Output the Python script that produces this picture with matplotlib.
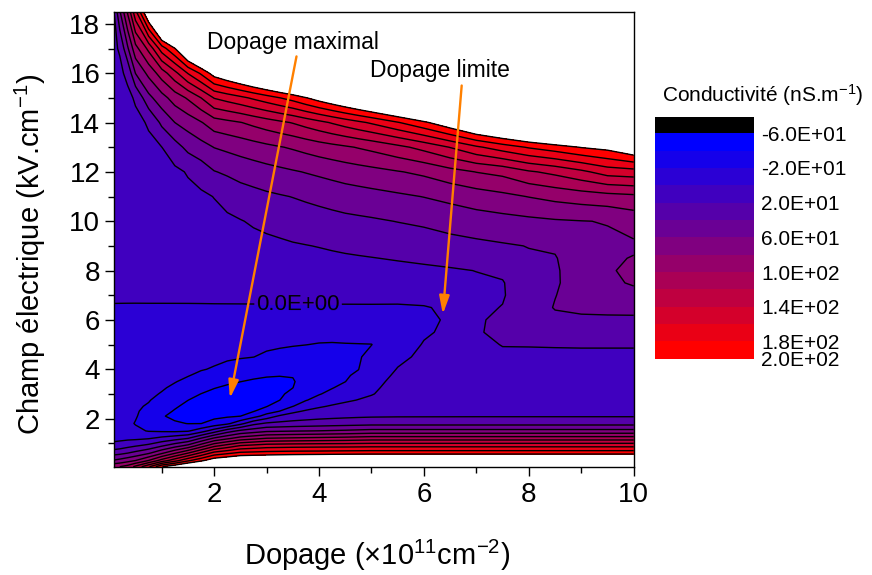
import matplotlib
matplotlib.use("Agg")
import matplotlib.pyplot as plt
import numpy as np
from matplotlib.colors import ListedColormap
from matplotlib.ticker import MultipleLocator, FuncFormatter

plt.rcParams['font.family'] = ['Liberation Sans', 'DejaVu Sans']
plt.rcParams['mathtext.fontset'] = 'custom'
plt.rcParams['mathtext.rm'] = 'Liberation Sans'
plt.rcParams['mathtext.default'] = 'regular'
plt.rcParams['contour.negative_linestyle'] = 'solid'

# doping (x1e11 cm-2) and electric field (kV/cm) sampling
dopage = [0.09, 0.2, 0.35, 0.5, 0.75, 1.0, 1.25, 1.5, 1.75, 2.0, 2.25, 2.5,
          2.75, 3.0, 3.25, 3.5, 3.75, 4.0, 4.25, 4.5, 4.75, 5.0, 5.5, 6.0,
          6.5, 7.0, 7.5, 8.0, 8.5, 9.0, 9.5, 10.0]
champ = [0.05, 0.3, 0.6, 0.9, 1.2, 1.5, 1.8, 2.1, 2.3, 2.5, 2.75, 3.0, 3.25,
         3.5, 3.75, 4.0, 4.5, 5.0, 5.5, 6.0, 6.5, 7.0, 7.5, 8.0, 8.5, 9.0,
         10, 11, 12, 13, 14, 15, 16, 17, 18.5]

# conductivity (nS/m), one list per doping value, along champ
cond_par_dopage = [
    [97, 62, 33, 6, -5, -12, -14, -15, -15, -15, -14.5, -14, -13.3, -12.5, -11.8, -11, -9, -7, -5, -3, -0.3, 0.6, 1.4, 2.2, 3.1, 3.9, 5.6, 7.3, 9.0, 10.7, 12.4, 14.1, 15.8, 17.5, 19.8],
    [100, 66, 35, 9, -5, -12, -14.5, -15.7, -15.9, -16, -15.5, -15, -14.3, -13.5, -12.8, -12, -9.8, -7.5, -5.2, -3, -0.34, 0.65, 1.6, 2.6, 3.6, 4.6, 6.5, 8.5, 10.5, 12.5, 14.5, 16.0, 16.5, 21.5, 58],
    [108, 72.5, 40, 14, -4.3, -13, -16, -17.5, -17.8, -18, -17.5, -17, -16.3, -15.5, -14.5, -13.5, -11, -8.5, -6, -3.5, -0.4, 0.74, 1.86, 2.98, 4.1, 5.2, 7.46, 9.7, 11.9, 13.5, 15.0, 16.0, 24, 57, 103],
    [125, 80, 46, 18.3, -4, -16, -21, -18.5, -18, -17.5, -16.8, -16, -15.3, -14.5, -13.8, -13, -11, -8.5, -6, -3.5, -0.45, 0.82, 2.07, 3.3, 4.56, 5.8, 8.3, 10.8, 13.0, 14.8, 16.0, 22, 60.5, 93, 155],
    [157, 100.5, 57.6, 25, -1.5, -21.1, -27.7, -28.5, -25.1, -21.7, -18.9, -17, -15.9, -14.8, -13.8, -12.7, -10.6, -8.2, -5.8, -3.5, -0.5, 0.94, 2.4, 3.8, 5.2, 6.6, 9.5, 12.3, 15.0, 17.0, 21.5, 54.3, 85.5, 125, 230],
    [199, 128, 77, 37.6, 5, -22.6, -30.6, -38.5, -34.6, -30.7, -25.8, -21, -18.4, -16.5, -15.2, -14, -11.5, -9, -6.5, -4, -0.55, 1.04, 2.6, 4.2, 5.8, 7.4, 10.5, 13.7, 16.9, 19.8, 44, 72.3, 110, 170, 305],
    [217, 152, 98.5, 51.5, 11.6, -23.7, -37.7, -43.9, -41.3, -38, -32.9, -27.8, -22.7, -19.3, -17.7, -16.2, -13.1, -10, -6.9, -3.8, -0.6, 1.15, 2.9, 4.65, 6.45, 8.2, 11.5, 14.4, 16, 32, 60, 89, 134, 199, 350],
    [235, 176, 120, 65.5, 19.5, -21.9, -40.4, -47, -47.4, -44, -39.8, -34.4, -28.9, -23.3, -19.3, -17.7, -14.4, -11.2, -8, -4.5, -0.65, 1.27, 3.2, 5.1, 7.1, 9.0, 12.5, 15.0, 21.5, 45.3, 68.6, 102.5, 161, 240, 390],
    [247.5, 195.5, 143.9, 90, 41, -8.9, -40.2, -46, -50, -50, -45, -40.2, -34.3, -28.6, -23, -19.1, -15.5, -11.8, -8.2, -4.8, -0.68, 1.4, 3.55, 5.7, 7.9, 10.0, 13.5, 16.5, 29, 52.6, 78.6, 120, 183, 270, 420],
    [260, 215, 167.7, 114.5, 63, 10, -33, -44.6, -48.8, -53, -49.8, -44.6, -39.3, -33.3, -27.2, -21.2, -16.6, -12.8, -9, -5.2, -0.7, 1.56, 3.9, 6.3, 8.7, 11.0, 14.5, 20.5, 39.1, 60.5, 90.9, 141, 210, 310, 460],
    [265, 222.5, 176.4, 127.8, 75.8, 31, -24.3, -42.7, -47.2, -51.6, -53, -47.8, -42.7, -37.1, -31, -24.9, -17.6, -13.5, -9.5, -5.4, -0.75, 1.73, 4.35, 6.95, 9.6, 12.2, 16.8, 25.9, 42.9, 64.25, 95.1, 148.1, 222.5, 322.5, 472.5],
    [270, 230, 185, 141, 88.3, 44.3, -6, -40.2, -44.3, -48.6, -53.9, -50.7, -45.4, -39.8, -34.1, -28.2, -18.7, -14.4, -10.1, -5.8, -0.8, 1.9, 4.8, 7.6, 10.5, 13.4, 19.1, 31.3, 46.7, 68, 99.3, 155.2, 235, 335, 485],
    [275, 232.5, 186.7, 145.5, 94.4, 50.3, 14.3, -28, -41, -45, -50, -52.9, -47.5, -42.2, -36.7, -31.1, -19.8, -15.4, -10.8, -6.2, -0.85, 2.1, 5.3, 8.4, 11.6, 14.2, 22.1, 33.95, 49.7, 71.7, 105, 163.25, 247.5, 347.5, 497.5],
    [280, 235, 188.3, 150, 100.5, 56.3, 23, -11.7, -30, -40.9, -45.5, -50.2, -48.9, -43.7, -38.6, -33.4, -23.1, -16.5, -11.6, -6.6, -0.9, 2.3, 5.8, 9.2, 12.7, 15.0, 25.1, 36.6, 52.7, 75.4, 110.7, 171.3, 260, 360, 510],
    [282.5, 237.5, 189.2, 151, 101.8, 57.6, 25, 2.9, -19.8, -28.9, -40.2, -44, -48, -43.7, -39.4, -34.7, -25.3, -17.7, -12.4, -7.1, -0.95, 2.45, 6.2, 9.85, 13.6, 16.7, 27, 38.55, 55.45, 78.85, 115.95, 179.65, 272.5, 372.5, 522.5],
    [285, 240, 190, 152, 103, 58.8, 27, 8.1, -4.3, -20.5, -27, -33.5, -40.2, -41.8, -38.9, -34.8, -26.6, -18.9, -13.2, -7.6, -1.0, 2.6, 6.6, 10.5, 14.5, 18.4, 28.9, 40.5, 58.2, 82.3, 121.2, 188, 285, 385, 535],
    [287.5, 242.5, 190.3, 152.5, 104, 59.7, 28.3, 11.1, 2.2, -9.1, -21, -24.4, -27.9, -31.3, -34.8, -33.8, -26.9, -19.8, -14, -8, -1.05, 2.75, 6.95, 11.1, 15.3, 19.5, 30.45, 42.85, 60.9, 86.4, 127.95, 199, 297.5, 397.5, 547.5],
    [290, 245, 190.5, 153, 105, 60.5, 29.6, 13.5, 5.8, -2.2, -13.3, -21.2, -24.2, -27.2, -30.2, -32.9, -26.8, -20.8, -14.6, -8.3, -1.1, 2.9, 7.3, 11.7, 16.1, 20.6, 32, 45.2, 63.6, 90.5, 134.7, 210, 310, 410, 560],
    [291, 246, 191.3, 153.2, 106, 61.8, 30.7, 15, 8.3, 1.7, -6.7, -15, -20.8, -22.8, -24.8, -26.8, -25.1, -21, -15.1, -8.7, -1.15, 3.05, 7.7, 12.35, 17.0, 21.95, 33.6, 47.6, 66.4, 93.95, 141.8, 220, 320, 420, 570],
    [292, 247, 192, 153.3, 107, 63, 31.7, 16.2, 10.3, 4.4, -2.5, -8.75, -15, -20.2, -21.8, -22.6, -23.3, -20.6, -15.1, -8.6, -1.2, 3.2, 8.1, 13, 17.9, 23.3, 35.2, 50, 69.2, 97.4, 148.9, 230, 330, 430, 580],
    [293.5, 248.5, 192.5, 153.8, 108.5, 64.6, 32.6, 17.2, 12.1, 6.9, 0.5, -4.1, -8.5, -12.9, -17.3, -20.3, -21.7, -20.4, -14.9, -8.5, -1.25, 3.4, 8.5, 13.6, 18.7, 24.4, 36.4, 51.65, 71.5, 101.25, 155.8, 240, 340, 440, 590],
    [295, 250, 193, 154.3, 110, 66.2, 33.5, 17.9, 13.3, 8.7, 3.8, -1.1, -3.35, -5.6, -7.95, -10.3, -15, -20.3, -12.2, -7, -1.3, 3.6, 8.9, 14.2, 19.5, 25.5, 37.6, 53.3, 73.8, 105.1, 162.7, 250, 350, 450, 600],
    [295, 250, 193, 154.3, 110, 66.2, 33.5, 18.5, 15.75, 13, 10.75, 8.5, 6.75, 5, 2.85, 0.7, -3.5, -6.5, -7, -5, -1.5, 3.9, 9.6, 15.4, 21.25, 27.5, 40.5, 56.7, 78.8, 114.8, 178.6, 270, 370, 470, 620],
    [295, 250, 193, 154.3, 110, 66.2, 33.5, 18.6, 16.3, 14, 12.25, 10.5, 9.25, 8, 6.75, 5.5, 3.2, 0.8, -1.5, -2.5, -0.8, 4.5, 10.6, 16.7, 23.2, 29.7, 43.3, 60.5, 84.1, 126.3, 196, 295, 395, 495, 645],
    [295, 250, 193, 154.3, 110, 66.2, 33.5, 18.7, 16.6, 14.5, 13, 11.5, 10.5, 9.5, 8.5, 7.5, 5.5, 3.8, 2.3, 1.5, 2.0, 6.5, 12.3, 18.2, 25.5, 32.8, 47.7, 65, 92.9, 140.7, 217, 320, 420, 520, 670],
    [295, 250, 193, 154.3, 110, 66.2, 33.5, 18.8, 16.9, 15, 13.75, 12.5, 11.75, 11, 11.25, 11.5, 13.5, 16.5, 18.8, 18, 16.5, 16, 17.5, 20.3, 28.1, 35.6, 50.8, 70.4, 100.5, 156.7, 240, 340, 440, 540, 690],
    [295, 250, 193, 154.3, 110, 66.2, 33.5, 18.8, 17.15, 15.5, 14.25, 13, 12.75, 12.5, 13.25, 14, 17.5, 20.5, 23, 23.5, 20.6, 18.5, 18.8, 23.5, 30.9, 38.1, 53.2, 75.1, 105.5, 170, 255, 355, 455, 555, 705],
    [295, 250, 193, 154.3, 110, 66.2, 33.5, 18.8, 17.15, 15.5, 14.25, 13, 13, 13, 13.75, 14.5, 17.5, 20.6, 25, 28, 30.5, 32, 34, 36, 38, 40.5, 55.6, 80.6, 117.5, 181.9, 270, 370, 470, 570, 720],
    [295, 250, 193, 154.3, 110, 66.2, 33.5, 18.8, 17.15, 15.5, 14.25, 13, 13.25, 13.5, 14.25, 15, 17, 21, 28, 36, 41, 39.5, 37.5, 37.5, 38.8, 42.5, 58, 85.7, 125, 191, 285, 385, 485, 585, 735],
    [295, 250, 193, 154.3, 110, 66.2, 33.5, 18.8, 17.15, 15.5, 14.25, 13, 13.25, 13.5, 14.25, 15, 17.5, 21, 28, 36.5, 44, 48, 50, 51, 52, 54, 59.5, 89.6, 135.5, 201, 300, 400, 500, 600, 750],
    [295, 250, 193, 154.3, 110, 66.2, 33.5, 18.8, 17.15, 15.5, 14.25, 13, 13.25, 13.5, 14.25, 15, 17.5, 21, 28, 37, 44.5, 51, 56, 58, 57, 57, 60.7, 92.8, 148.7, 207, 310, 410, 510, 610, 760],
    [295, 250, 193, 154.3, 110, 66.2, 33.5, 18.8, 17.15, 15.5, 14.25, 13, 13.25, 13.5, 14.25, 15, 17.5, 21, 28, 37, 45, 54, 62, 64, 61, 57, 67.7, 95.6, 151.7, 223, 325, 425, 525, 625, 775],
]

niveaux = [-60, -40, -20, 0, 20, 40, 60, 80, 100, 120, 140, 160, 180, 200]
ticks_cbar = [-60, -20, 20, 60, 100, 140, 180, 200]

Z = np.array(cond_par_dopage).T

# blue -> red in 13 steps, black below the lowest level
t = np.linspace(0, 1, len(niveaux) - 1)
cmap = ListedColormap(np.column_stack([t, np.zeros_like(t), 1 - t]))
cmap.set_under('black')

fig = plt.figure(figsize=(8.72, 5.75), dpi=100)
ax = fig.add_axes([114/872, 1 - 466.7/575, (633.7 - 114)/872, (466.7 - 12)/575])

cf = ax.contourf(dopage, champ, Z, levels=niveaux, cmap=cmap, extend='min')
autres = [v for v in niveaux if v != 0]
ax.contour(dopage, champ, Z, levels=autres, colors='black', linewidths=1.0)
cs0 = ax.contour(dopage, champ, Z, levels=[0], colors='black', linewidths=1.0)
ax.clabel(cs0, fmt=lambda v: '%.1E' % v, manual=[(3.6, 6.67)],
          fontsize=16, inline=True, inline_spacing=2)

ax.set_xlim(0.09, 10)
ax.set_ylim(0.05, 18.48)
ax.xaxis.set_major_locator(MultipleLocator(2))
ax.xaxis.set_minor_locator(MultipleLocator(1))
ax.yaxis.set_major_locator(MultipleLocator(2))
ax.yaxis.set_minor_locator(MultipleLocator(1))
ax.tick_params(which='both', direction='out', width=1, labelsize=20)
ax.tick_params(which='major', length=6.3)
ax.tick_params(which='minor', length=4)
ax.tick_params(axis='x', which='major', pad=5)
ax.tick_params(axis='y', which='major', pad=3.6)
for s in ax.spines.values():
    s.set_linewidth(1.0)

ax.set_xlabel('Dopage (×10$^{11}$cm$^{-2}$)', fontsize=21)
ax.set_ylabel('Champ électrique (kV.cm$^{-1}$)', fontsize=21)
ax.xaxis.set_label_coords(0.506, -0.157)
ax.yaxis.set_label_coords(-0.127, 0.468)

orange = '#ff8000'
fleche = dict(arrowstyle='-|>,head_length=1.08,head_width=0.3', color=orange,
              lw=1.7, mutation_scale=10, shrinkA=0, shrinkB=0)
ax.annotate('', xy=(2.3, 2.82), xytext=(3.57, 16.68), arrowprops=fleche)
ax.annotate('', xy=(6.36, 6.23), xytext=(6.72, 15.5), arrowprops=fleche)
ax.text(1.86, 17.26, 'Dopage maximal', fontsize=16.5, ha='left', va='center')
ax.text(4.97, 16.1, 'Dopage limite', fontsize=16.5, ha='left', va='center')

cax = fig.add_axes([655/872, 1 - 358.7/575, 99/872, (358.7 - 117.3)/575])
cbar = fig.colorbar(cf, cax=cax, extend='min', extendrect=True,
                    extendfrac=0.071, ticks=ticks_cbar)
cbar.ax.invert_yaxis()
cbar.outline.set_visible(False)
cbar.ax.yaxis.set_major_formatter(FuncFormatter(lambda v, p: '%.1E' % v))
cbar.ax.tick_params(length=0, labelsize=15, pad=5)
fig.text(662/872, 1 - 95/575, 'Conductivité (nS.m$^{-1}$)', fontsize=15,
         ha='left', va='center')

fig.savefig('out.png', dpi=100)
